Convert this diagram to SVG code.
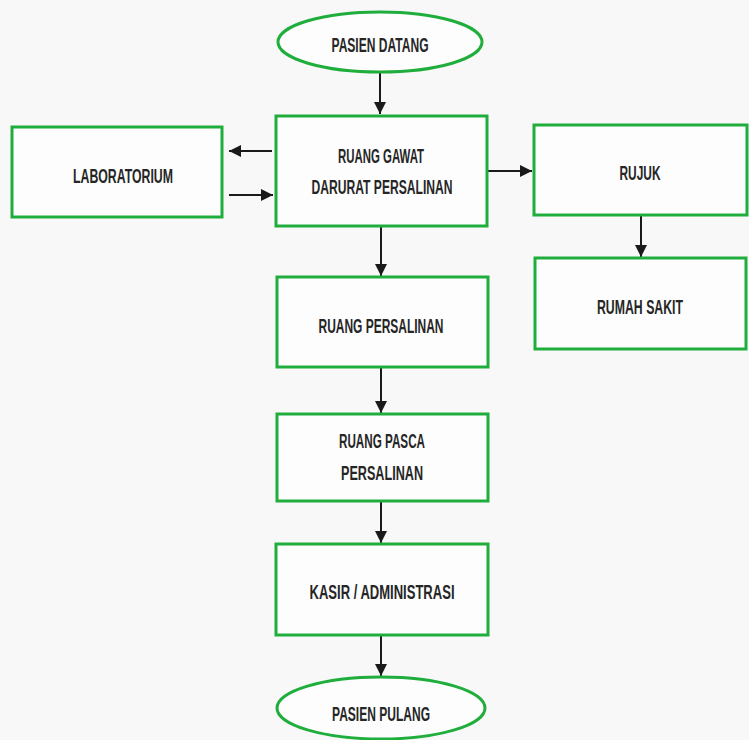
<svg xmlns="http://www.w3.org/2000/svg" width="749" height="740" viewBox="0 0 749 740">
  <style>
    .box { fill: #fdfdfd; stroke: #1fae3c; stroke-width: 3; }
    .lbl { font-family: "Liberation Sans", Arial, sans-serif; font-weight: bold; font-size: 21px; fill: #262626; text-anchor: middle; }
    .edge { stroke: #1a1a1a; stroke-width: 2; fill: none; marker-end: url(#arrow); }
  </style>
  <defs>
    <marker id="arrow" viewBox="0 0 10 10" refX="10" refY="5" markerWidth="6" markerHeight="6" orient="auto" markerUnits="strokeWidth">
      <path d="M0,0 L10,5 L0,10 z" fill="#1a1a1a"/>
    </marker>
  </defs>
  <rect width="749" height="740" fill="#f8f8f8"/>

  <g id="connectors">
    <line class="edge" x1="380" y1="72" x2="380" y2="114"/>
    <line class="edge" x1="272" y1="151" x2="229" y2="151"/>
    <line class="edge" x1="229" y1="195" x2="273" y2="195"/>
    <line class="edge" x1="488" y1="171" x2="532" y2="171"/>
    <line class="edge" x1="641" y1="216" x2="641" y2="257"/>
    <line class="edge" x1="381" y1="227" x2="381" y2="276"/>
    <line class="edge" x1="381" y1="368" x2="381" y2="413"/>
    <line class="edge" x1="381" y1="502" x2="381" y2="543"/>
    <line class="edge" x1="381" y1="636" x2="381" y2="676"/>
  </g>

  <!-- labels are squeezed to a condensed width with textLength -->
  <g id="pasien-datang">
    <ellipse class="box" cx="380" cy="42" rx="102" ry="30"/>
    <text class="lbl" x="380" y="51.5" textLength="97" lengthAdjust="spacingAndGlyphs">PASIEN DATANG</text>
  </g>
  <g id="laboratorium">
    <rect class="box" x="12" y="127" width="210" height="90"/>
    <text class="lbl" x="123" y="182.5" textLength="100" lengthAdjust="spacingAndGlyphs">LABORATORIUM</text>
  </g>
  <g id="ruang-gawat-darurat">
    <rect class="box" x="276" y="116" width="211" height="110"/>
    <text class="lbl" x="381" y="163" textLength="86" lengthAdjust="spacingAndGlyphs">RUANG GAWAT</text>
    <text class="lbl" x="382" y="194" textLength="141" lengthAdjust="spacingAndGlyphs">DARURAT PERSALINAN</text>
  </g>
  <g id="rujuk">
    <rect class="box" x="534" y="125" width="213" height="90"/>
    <text class="lbl" x="640" y="180" textLength="41" lengthAdjust="spacingAndGlyphs">RUJUK</text>
  </g>
  <g id="rumah-sakit">
    <rect class="box" x="535" y="258" width="211" height="91"/>
    <text class="lbl" x="640" y="313.5" textLength="86" lengthAdjust="spacingAndGlyphs">RUMAH SAKIT</text>
  </g>
  <g id="ruang-persalinan">
    <rect class="box" x="277" y="277" width="211" height="90"/>
    <text class="lbl" x="381" y="332.5" textLength="125" lengthAdjust="spacingAndGlyphs">RUANG PERSALINAN</text>
  </g>
  <g id="ruang-pasca-persalinan">
    <rect class="box" x="277" y="414" width="211" height="87"/>
    <text class="lbl" x="382" y="448" textLength="86" lengthAdjust="spacingAndGlyphs">RUANG PASCA</text>
    <text class="lbl" x="382" y="480" textLength="82" lengthAdjust="spacingAndGlyphs">PERSALINAN</text>
  </g>
  <g id="kasir-administrasi">
    <rect class="box" x="276" y="544" width="212" height="91"/>
    <text class="lbl" x="382" y="599" textLength="145" lengthAdjust="spacingAndGlyphs">KASIR / ADMINISTRASI</text>
  </g>
  <g id="pasien-pulang">
    <ellipse class="box" cx="381" cy="708" rx="104" ry="31"/>
    <text class="lbl" x="381" y="721" textLength="98" lengthAdjust="spacingAndGlyphs">PASIEN PULANG</text>
  </g>
</svg>
